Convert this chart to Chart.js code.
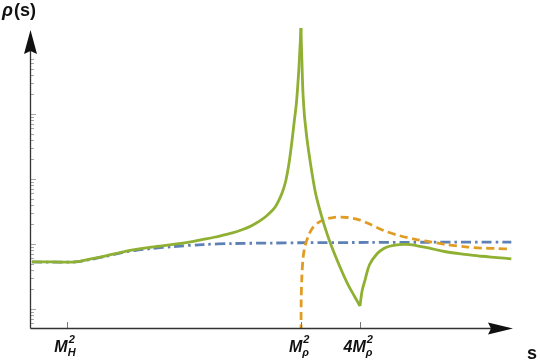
<!DOCTYPE html>
<html>
<head>
<meta charset="utf-8">
<script src="https://cdn.jsdelivr.net/npm/chart.js@4.4.1/dist/chart.umd.min.js"></script>
<style>
  html, body { margin: 0; padding: 0; background: #fff; }
  #wrap { width: 540px; height: 364px; }
</style>
</head>
<body>
<div id="wrap"><canvas id="rho" width="540" height="364"></canvas></div>
<script>
"use strict";

// s in units of M_rho^2 (log axis), rho(s) on a log axis
const greenS = [0.0018, 0.003, 0.005, 0.007, 0.01, 0.015, 0.02, 0.03, 0.05, 0.07, 0.1, 0.13, 0.17, 0.2, 0.25, 0.3, 0.35, 0.4, 0.45,
    0.5, 0.55, 0.6, 0.65, 0.7, 0.75, 0.8, 0.85, 0.9, 0.95, 0.98,
    1.0,
    1.01, 1.02, 1.035, 1.05, 1.08, 1.1, 1.15, 1.2, 1.3, 1.4, 1.5, 1.7, 2.0, 2.5, 3.0, 3.5,
    4.0,
    4.2, 4.5, 5, 6, 7, 8, 10, 12, 15, 20, 30, 50, 70, 100, 140];
const greenRho = [0.53, 0.53, 0.53, 0.584, 0.654, 0.753, 0.82, 0.899, 0.99, 1.062, 1.177, 1.272, 1.40, 1.487, 1.66, 1.853, 2.104, 2.391, 2.754,
    3.197, 3.776, 4.837, 6.424, 9.415, 16.42, 33.35, 72.7, 153, 475, 1152,
    2100,
    1152, 727, 345, 199.5, 102, 76.4, 42.0, 26.2, 11.97, 6.33, 4.12, 2.12, 1.018, 0.443, 0.242, 0.159,
    0.111,
    0.189, 0.279, 0.48, 0.714, 0.853, 0.925, 0.979, 0.99, 0.948, 0.871, 0.761, 0.689, 0.649, 0.62, 0.592];
const greenPeak = 30;   // index of the rho resonance peak
const greenCusp = 47;   // index of the 4 M_rho^2 threshold

const orangeS = [1.0, 1.005, 1.02, 1.05, 1.1, 1.2, 1.3, 1.5, 1.8, 2.2, 3, 4, 5, 7, 10, 15, 20, 30, 50, 70, 100, 140];
const orangeRho = [0.028, 0.138, 0.30, 0.609, 0.932, 1.375, 1.73, 2.14, 2.42, 2.58, 2.56, 2.34, 2.03, 1.61, 1.35, 1.17, 1.093, 0.982, 0.899, 0.868, 0.853, 0.838];

const blueS = [0.0018, 0.005, 0.007, 0.01, 0.015, 0.02, 0.03, 0.05, 0.1, 0.2, 0.5, 1, 5, 20, 140];
const blueRho = [0.53, 0.53, 0.575, 0.642, 0.74, 0.794, 0.853, 0.915, 0.982, 1.018, 1.036, 1.047, 1.058, 1.066, 1.073];

const xTickS = [0.0041, 1, 4];
const xTickPrefix = ["", "", "4"];
const xTickSub = ["H", "\u03c1", "\u03c1"];
const yTickTop = 700;

const GREEN = "#8FB032", ORANGE = "#E19C24", BLUE = "#5E81B5";

const pts = (xs, ys, from, to) => xs.slice(from, to).map((s, i) => ({ x: s, y: ys.slice(from, to)[i] }));

function lineSet(data, color, dash, tension) {
    return {
        data: data,
        borderColor: color,
        borderWidth: 2.8,
        borderDash: dash,
        pointRadius: 0,
        fill: false,
        tension: tension,
    };
}

const axesPlugin = {
    id: "axes",
    afterDatasetsDraw(chart) {
        const { ctx, chartArea: a, scales: { x, y } } = chart;
        ctx.save();

        // y ticks (log minor ticks, inside)
        ctx.strokeStyle = "#a8a8a8";
        ctx.lineWidth = 1;
        for (let e = -2; e <= 3; e++) {
            for (let k = 1; k <= 9; k++) {
                const v = k * Math.pow(10, e);
                if (v < y.min || v > yTickTop) continue;
                const py = Math.round(y.getPixelForValue(v)) + 0.5;
                ctx.beginPath();
                ctx.moveTo(a.left, py);
                ctx.lineTo(a.left + (k === 1 ? 5 : 3), py);
                ctx.stroke();
            }
        }

        // x ticks
        ctx.strokeStyle = "#777";
        xTickS.forEach((s) => {
            const px = Math.round(x.getPixelForValue(s)) + 0.5;
            ctx.beginPath();
            ctx.moveTo(px, a.bottom);
            ctx.lineTo(px, a.bottom - 6);
            ctx.stroke();
        });

        // axis lines
        const ax = a.left - 0.5, ay = a.bottom + 0.5;
        ctx.strokeStyle = "#333";
        ctx.lineWidth = 1.3;
        ctx.beginPath();
        ctx.moveTo(ax, ay);
        ctx.lineTo(ax, 50);
        ctx.moveTo(ax, ay);
        ctx.lineTo(a.right - 20, ay);
        ctx.stroke();

        // arrow heads
        ctx.fillStyle = "#111";
        ctx.beginPath();
        ctx.moveTo(ax, 30);
        ctx.lineTo(ax + 6.5, 54);
        ctx.lineTo(ax, 51);
        ctx.lineTo(ax - 6.5, 54);
        ctx.closePath();
        ctx.fill();
        ctx.beginPath();
        ctx.moveTo(a.right, ay);
        ctx.lineTo(a.right - 25, ay - 6);
        ctx.lineTo(a.right - 22, ay);
        ctx.lineTo(a.right - 25, ay + 6);
        ctx.closePath();
        ctx.fill();

        // tick labels  M_H^2, M_rho^2, 4M_rho^2
        const big = "italic bold 16px 'Liberation Sans', Arial, sans-serif";
        const small = "italic bold 11px 'Liberation Sans', Arial, sans-serif";
        ctx.fillStyle = "#111";
        ctx.textBaseline = "alphabetic";
        ctx.textAlign = "left";
        xTickS.forEach((s, i) => {
            const main = xTickPrefix[i] + "M";
            ctx.font = big;
            const wMain = ctx.measureText(main).width;
            ctx.font = small;
            const wScript = Math.max(ctx.measureText("2").width, ctx.measureText(xTickSub[i]).width);
            const cx = x.getPixelForValue(s) - 1.5;
            const left = cx - (wMain + 1 + wScript) / 2;
            ctx.font = big;
            ctx.fillText(main, left, 352);
            ctx.font = small;
            ctx.fillText("2", left + wMain + 1, 343);
            ctx.fillText(xTickSub[i], left + wMain, 356);
        });

        // axis titles
        ctx.font = "italic bold 18px 'Liberation Sans', Arial, sans-serif";
        ctx.fillText("\u03c1", 2, 16);
        const wr = ctx.measureText("\u03c1").width;
        ctx.font = "bold 18px 'Liberation Sans', Arial, sans-serif";
        ctx.fillText("(s)", 2 + wr + 1, 16);
        ctx.fillText("s", 527, 359);

        ctx.restore();
    },
};

document.addEventListener("DOMContentLoaded", function () {
    const ctx = document.getElementById("rho").getContext("2d");
    new Chart(ctx, {
        type: "line",
        data: {
            datasets: [
                lineSet(pts(greenS, greenRho, 0, greenPeak + 1), GREEN, [], 0.35),
                lineSet(pts(greenS, greenRho, greenPeak, greenCusp + 1), GREEN, [], 0.35),
                lineSet(pts(greenS, greenRho, greenCusp), GREEN, [], 0.35),
                lineSet(pts(orangeS, orangeRho), ORANGE, [8, 4.5], 0.3),
                lineSet(pts(blueS, blueRho), BLUE, [10, 4, 2.5, 4], 0.3),
            ],
        },
        options: {
            responsive: false,
            animation: false,
            devicePixelRatio: 1,
            layout: { padding: { left: 31, top: 26, right: 27, bottom: 36 } },
            plugins: { legend: { display: false }, tooltip: { enabled: false } },
            scales: {
                x: { type: "logarithmic", min: 0.00176, max: 145.6, display: false },
                y: { type: "logarithmic", min: 0.0511, max: 2260, display: false },
            },
        },
        plugins: [axesPlugin],
    });
});
</script>
</body>
</html>
